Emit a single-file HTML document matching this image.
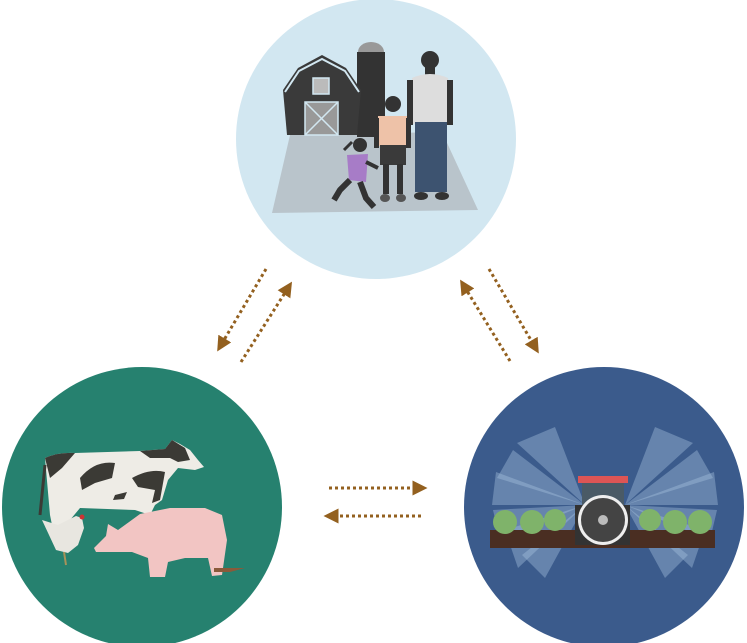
<!DOCTYPE html>
<html><head><style>html,body{margin:0;padding:0;background:#fff;}svg{display:block}</style></head>
<body>
<svg width="747" height="643" viewBox="0 0 747 643" xmlns="http://www.w3.org/2000/svg">
<defs>
<marker id="ah" viewBox="0 0 10 10" refX="5" refY="5" markerWidth="5" markerHeight="5" orient="auto"><path d="M0,0 L10,5 L0,10 z" fill="#93601f"/></marker>
<clipPath id="cr"><circle cx="604" cy="507" r="140"/></clipPath>
</defs>
<!-- top circle -->
<circle cx="376" cy="139" r="140" fill="#d2e7f1"/>
<polygon points="290,135 442,132 478,210 272,213" fill="#b9c4cb"/>
<rect x="357" y="52" width="28" height="85" fill="#333"/>
<path d="M358,52 a13,10 0 0 1 26,0 z" fill="#999"/>
<polygon points="283,90 298,68 322,55 346,68 361,90 357,135 287,135" fill="#3a3a3a"/>
<polyline points="285,92 299,71 322,59 345,71 359,92" fill="none" stroke="#d2e7f1" stroke-width="2"/>
<rect x="313" y="78" width="16" height="16" fill="#bbb" stroke="#d2e7f1" stroke-width="1.5"/>
<rect x="305" y="102" width="33" height="33" fill="#999" stroke="#d2e7f1" stroke-width="1.5"/>
<path d="M305,102 L338,135 M338,102 L305,135" stroke="#d2e7f1" stroke-width="1.5"/>
<circle cx="430" cy="60" r="9" fill="#333"/>
<rect x="425" y="67" width="10" height="8" fill="#333"/>
<path d="M412,78 Q430,70 448,78 L450,124 L412,124 Z" fill="#ddd"/>
<rect x="407" y="80" width="6" height="45" fill="#333"/><rect x="447" y="80" width="6" height="45" fill="#333"/>
<rect x="415" y="122" width="32" height="70" fill="#3d5370"/>
<ellipse cx="421" cy="196" rx="7" ry="4" fill="#333"/><ellipse cx="442" cy="196" rx="7" ry="4" fill="#333"/>
<circle cx="393" cy="104" r="8" fill="#333"/>
<path d="M378,116 L407,116 L407,146 L378,146 Z" fill="#eec2a8"/>
<rect x="374" y="118" width="5" height="30" fill="#333"/><rect x="406" y="118" width="5" height="30" fill="#333"/>
<rect x="380" y="145" width="26" height="20" fill="#3a3a3a"/>
<rect x="383" y="164" width="6" height="30" fill="#333"/><rect x="397" y="164" width="6" height="30" fill="#333"/>
<ellipse cx="385" cy="198" rx="5" ry="4" fill="#555"/><ellipse cx="401" cy="198" rx="5" ry="4" fill="#555"/>
<circle cx="360" cy="145" r="7" fill="#333"/>
<path d="M352,142 L344,150" stroke="#333" stroke-width="3"/>
<path d="M347,155 L368,154 L366,182 L349,180 Z" fill="#a77cc7"/>
<path d="M366,162 L378,168" stroke="#333" stroke-width="4"/>
<path d="M350,180 L340,190 L334,200 M360,182 L366,198 L374,207" stroke="#333" stroke-width="6" fill="none"/>
<!-- bottom-left circle -->
<circle cx="142" cy="507" r="140" fill="#26816f"/>
<!-- cow -->
<path d="M45,458 Q58,452 75,453 L140,451 L165,449 L172,440 L180,444 L190,450 L198,460 L204,467 L195,470 L178,468 L168,480 L162,500 L155,505 L150,515 L135,510 L80,508 L70,520 L66,545 L56,545 L50,515 Z" fill="#eeece6"/>
<path d="M45,458 Q58,452 75,453 L62,468 L50,478 Z" fill="#3b3a35"/>
<path d="M80,478 Q95,460 115,463 L112,478 L95,483 L82,490 Z" fill="#3b3a35"/>
<path d="M132,478 Q150,468 165,472 L160,500 L152,503 L155,490 L138,487 Z" fill="#3b3a35"/>
<path d="M140,451 L165,449 L172,440 L185,448 L190,460 L178,462 L170,458 L150,458 Z" fill="#3b3a35"/>
<path d="M115,495 L127,492 L124,499 L113,500Z" fill="#3b3a35"/>
<path d="M45,465 L40,515" stroke="#3b3a35" stroke-width="3"/>
<!-- chicken -->
<path d="M42,520 L58,525 L76,516 L82,518 L84,528 L78,545 L68,553 L56,550 Z" fill="#e8e6e0"/>
<circle cx="82" cy="517" r="2.5" fill="#c33"/>
<path d="M64,552 L66,565" stroke="#a8925a" stroke-width="2"/>
<!-- pig -->
<path d="M94,548 L106,536 L108,524 L118,530 L140,514 L170,508 L205,508 L222,515 L227,540 L222,575 L212,576 L208,558 L185,558 L168,562 L165,577 L150,577 L148,558 L132,552 L118,552 L96,552 Z" fill="#f2c5c3"/>
<path d="M214,568 L245,568 L230,572 L214,572Z" fill="#8a5a3a"/>
<!-- bottom-right circle -->
<circle cx="604" cy="507" r="140" fill="#3b5b8c"/>
<g clip-path="url(#cr)" fill="#a8c2de" fill-opacity="0.4">
<polygon points="585,505 555,427 517,443"/>
<polygon points="585,505 513,450 497,478"/>
<polygon points="585,505 496,472 492,505"/>
<polygon points="585,505 493,510 500,540"/>
<polygon points="585,505 505,530 518,568"/>
<polygon points="585,505 522,555 545,578"/>
<polygon points="625,505 655,427 693,443"/>
<polygon points="625,505 697,450 713,478"/>
<polygon points="625,505 714,472 718,505"/>
<polygon points="625,505 717,510 710,540"/>
<polygon points="625,505 705,530 692,568"/>
<polygon points="625,505 688,555 665,578"/>
</g>
<rect x="490" y="530" width="225" height="18" fill="#4a2e22"/>
<g fill="#7fb36a">
<circle cx="505" cy="522" r="12"/><circle cx="532" cy="522" r="12"/><circle cx="555" cy="520" r="11"/>
<circle cx="650" cy="520" r="11"/><circle cx="675" cy="522" r="12"/><circle cx="700" cy="522" r="12"/>
</g>
<rect x="578" y="476" width="50" height="7" fill="#d55"/>
<rect x="582" y="483" width="42" height="22" fill="#4a5a66"/>
<rect x="575" y="505" width="55" height="40" fill="#333"/>
<circle cx="603" cy="520" r="25" fill="#eee"/>
<circle cx="603" cy="520" r="22" fill="#444"/>
<circle cx="603" cy="520" r="5" fill="#bbb"/>
<!-- arrows -->
<g stroke="#93601f" stroke-width="3" stroke-dasharray="3,3" fill="none" marker-end="url(#ah)">
<line x1="266" y1="269" x2="221" y2="345"/>
<line x1="241" y1="362" x2="288" y2="288"/>
<line x1="489" y1="269" x2="535" y2="347"/>
<line x1="510" y1="361" x2="464" y2="286"/>
<line x1="329" y1="488" x2="420" y2="488"/>
<line x1="421" y1="516" x2="331" y2="516"/>
</g>
</svg>
</body></html>
